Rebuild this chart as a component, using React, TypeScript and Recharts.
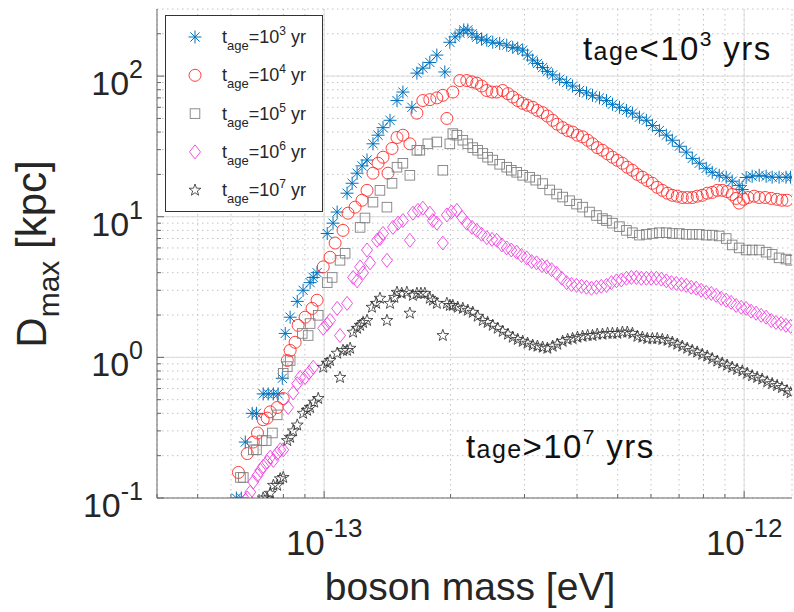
import { CartesianGrid, Legend, ReferenceLine, Scatter, ScatterChart, XAxis, YAxis } from "recharts";

const FONT = '"Liberation Sans", Arial, Helvetica, sans-serif';
const AXIS = "#666666";
const TEXT = "#262626";

// boson mass in units of 1e-13 eV, D_max in kpc
const age1e3: [number, number][] = [
  [0.618, 0.1], [0.635, 0.1], [0.649, 0.25], [0.674, 0.4], [0.69, 0.4], [0.716, 0.55], [0.736, 0.55],
  [0.757, 0.55], [0.777, 0.55], [0.795, 0.71], [0.808, 1.48], [0.83, 1.93], [0.863, 2.5], [0.891, 3.0],
  [0.926, 3.4], [0.942, 3.7], [0.962, 4.0], [1.017, 7.6], [1.05, 9.0], [1.074, 10.8], [1.134, 14.7],
  [1.166, 17.3], [1.198, 20.4], [1.231, 23], [1.265, 25.3], [1.307, 33], [1.344, 38], [1.381, 43],
  [1.435, 48.5], [1.491, 67], [1.54, 77], [1.618, 60], [1.663, 105], [1.718, 114], [1.785, 125],
  [1.855, 141], [1.938, 107], [1.992, 174], [2.05, 190], [2.104, 202], [2.15, 213], [2.198, 213],
  [2.25, 200], [2.309, 189], [2.37, 183], [2.439, 180], [2.52, 174], [2.618, 171], [2.721, 166],
  [2.812, 160], [2.89, 158], [2.97, 153], [3.05, 141], [3.137, 130], [3.22, 123], [3.313, 115],
  [3.4, 108], [3.5, 102], [3.637, 95], [3.779, 90], [3.904, 85], [4.057, 79], [4.214, 76], [4.355, 73],
  [4.525, 70], [4.701, 67], [4.858, 63], [5.048, 60], [5.245, 57], [5.42, 54.5], [5.632, 51],
  [5.851, 48.5], [6.047, 44.5], [6.283, 41], [6.528, 38], [6.745, 35], [7.009, 31.7], [7.282, 28.8],
  [7.525, 26], [7.819, 24], [8.124, 22.1], [8.395, 20.7], [8.723, 19.7], [9.063, 19.1], [9.365, 17.9],
  [9.73, 16.7], [9.9, 15.6], [10.11, 19], [10.45, 19.4], [10.86, 19.7], [11.28, 19.4], [11.66, 19.1],
  [12.11, 19.1], [12.58, 19.1], [12.9, 19.1],
];

const age1e4: [number, number][] = [
  [0.625, 0.152], [0.656, 0.207], [0.678, 0.25], [0.694, 0.29], [0.716, 0.36], [0.732, 0.37],
  [0.744, 0.41], [0.773, 0.44], [0.799, 0.51], [0.817, 0.95], [0.83, 1.12], [0.853, 1.28], [0.867, 1.69],
  [0.901, 1.93], [0.936, 2.23], [0.962, 2.55], [0.995, 4.4], [1.033, 5.15], [1.062, 6.5], [1.109, 8.0],
  [1.14, 10.6], [1.185, 11.7], [1.231, 13.1], [1.265, 15.4], [1.307, 20.4], [1.344, 24], [1.381, 26.5],
  [1.419, 20.4], [1.451, 30.6], [1.491, 36.6], [1.54, 38], [1.6, 33], [1.663, 54.5], [1.718, 67],
  [1.785, 68], [1.855, 70], [1.917, 73], [1.96, 50], [2.025, 77], [2.104, 93], [2.186, 93], [2.25, 91],
  [2.309, 89], [2.37, 85], [2.439, 79], [2.51, 77], [2.576, 77], [2.662, 79], [2.74, 75], [2.812, 71],
  [2.89, 67], [2.97, 64], [3.05, 62], [3.137, 60], [3.22, 57], [3.313, 55], [3.4, 52], [3.5, 48.5],
  [3.59, 45.5], [3.697, 43], [3.8, 41], [3.904, 40], [4.01, 38], [4.124, 37], [4.24, 35], [4.355, 33],
  [4.47, 31], [4.6, 29.7], [4.73, 28], [4.858, 26.5], [4.99, 25.2], [5.131, 24], [5.27, 22.5],
  [5.42, 21.4], [5.57, 20], [5.725, 19.1], [5.88, 18.1], [6.047, 17.3], [6.21, 16.2], [6.386, 15.4],
  [6.57, 14.7], [6.745, 14.2], [6.93, 14.0], [7.124, 13.7], [7.32, 13.7], [7.525, 13.7], [7.73, 14.0],
  [7.948, 14.2], [8.17, 14.7], [8.395, 14.9], [8.63, 15.4], [8.866, 15.4], [9.11, 15.1], [9.365, 14.4],
  [9.572, 13.5], [9.73, 12.5], [9.97, 13.3], [10.22, 13.7], [10.56, 14.0], [10.86, 13.7], [11.22, 13.7],
  [11.6, 13.5], [11.98, 13.3], [12.3, 13.1], [12.65, 13.1],
];

const age1e5: [number, number][] = [
  [0.632, 0.14], [0.642, 0.14], [0.678, 0.22], [0.69, 0.22], [0.712, 0.256], [0.728, 0.256],
  [0.753, 0.29], [0.773, 0.39], [0.799, 0.77], [0.817, 0.86], [0.83, 0.95], [0.887, 1.48], [0.916, 1.43],
  [0.926, 1.74], [0.968, 1.99], [1.017, 3.4], [1.045, 3.7], [1.091, 4.9], [1.122, 5.5], [1.218, 8.4],
  [1.251, 9.8], [1.307, 12.7], [1.358, 15.4], [1.411, 11.7], [1.451, 17.3], [1.491, 22.5], [1.54, 24],
  [1.6, 19.7], [1.663, 29.7], [1.69, 29.7], [1.766, 33], [1.855, 34], [1.917, 21.4], [1.992, 33],
  [2.025, 39], [2.07, 38], [2.139, 35], [2.198, 33], [2.259, 31], [2.32, 29.7], [2.386, 28.2],
  [2.45, 26.5], [2.52, 25.3], [2.618, 23.6], [2.721, 22.5], [2.79, 21.4], [2.874, 20.7], [2.97, 19.7],
  [3.086, 19.1], [3.19, 18.2], [3.313, 17.2], [3.443, 15.5], [3.577, 14.5], [3.697, 13.8], [3.841, 13],
  [3.99, 12.3], [4.124, 11.7], [4.284, 10.8], [4.451, 10.2], [4.6, 9.7], [4.701, 9.4], [4.858, 9.0],
  [5.048, 8.5], [5.245, 8.0], [5.42, 7.7], [5.632, 7.4], [5.851, 7.5], [6.047, 7.6], [6.283, 7.7],
  [6.528, 7.7], [6.745, 7.6], [7.009, 7.6], [7.282, 7.5], [7.525, 7.5], [7.819, 7.5], [8.124, 7.4],
  [8.395, 7.4], [8.723, 7.3], [9.063, 7.0], [9.365, 6.3], [9.73, 6.0], [10.11, 5.8], [10.45, 5.8],
  [10.86, 5.8], [11.28, 5.6], [11.66, 5.4], [12.11, 5.1], [12.58, 5.0], [12.9, 4.9],
];

const age1e6: [number, number][] = [
  [0.656, 0.1], [0.667, 0.11], [0.678, 0.13], [0.694, 0.145], [0.705, 0.157], [0.716, 0.168],
  [0.732, 0.18], [0.744, 0.195], [0.757, 0.185], [0.773, 0.207], [0.786, 0.22], [0.799, 0.22],
  [0.821, 0.44], [0.844, 0.56], [0.863, 0.65], [0.877, 0.72], [0.901, 0.72], [0.921, 0.78], [0.942, 0.85],
  [0.995, 1.61], [1.017, 1.72], [1.033, 1.83], [1.074, 2.23], [1.091, 1.43], [1.134, 2.42], [1.172, 3.7],
  [1.198, 3.5], [1.218, 4.4], [1.238, 4.0], [1.265, 5.8], [1.286, 4.7], [1.336, 6.8], [1.358, 7.0],
  [1.381, 7.6], [1.411, 4.9], [1.458, 8.4], [1.5, 9.0], [1.54, 9.4], [1.6, 6.8], [1.627, 10.6],
  [1.672, 11.1], [1.718, 11.5], [1.785, 10.6], [1.815, 9.4], [1.855, 9.0], [1.917, 6.5], [1.96, 10.3],
  [2.01, 10.8], [2.07, 11.1], [2.13, 9.9], [2.186, 9.0], [2.25, 8.4], [2.309, 8.0], [2.37, 7.5],
  [2.439, 7.1], [2.51, 6.9], [2.576, 6.8], [2.65, 6.3], [2.721, 6.0], [2.79, 5.8], [2.874, 5.6],
  [2.95, 5.3], [3.036, 5.1], [3.12, 4.8], [3.206, 4.7], [3.3, 4.5], [3.387, 4.4], [3.48, 4.2],
  [3.577, 3.96], [3.68, 3.65], [3.779, 3.4], [3.88, 3.3], [3.99, 3.25], [4.1, 3.2], [4.214, 3.15],
  [4.33, 3.1], [4.451, 3.15], [4.57, 3.2], [4.701, 3.25], [4.83, 3.4], [4.966, 3.5], [5.1, 3.55],
  [5.245, 3.65], [5.39, 3.7], [5.54, 3.7], [5.69, 3.65], [5.851, 3.65], [6.01, 3.65], [6.18, 3.65],
  [6.35, 3.6], [6.528, 3.5], [6.71, 3.4], [6.895, 3.36], [7.09, 3.3], [7.282, 3.25], [7.48, 3.15],
  [7.691, 3.1], [7.9, 3.0], [8.124, 2.9], [8.35, 2.85], [8.581, 2.76], [8.82, 2.63], [9.063, 2.55],
  [9.31, 2.46], [9.572, 2.34], [9.84, 2.27], [10.11, 2.23], [10.39, 2.13], [10.68, 2.06], [10.98, 1.99],
  [11.28, 1.93], [11.6, 1.83], [11.91, 1.77], [12.24, 1.74], [12.58, 1.69], [12.9, 1.66],
];

const age1e7: [number, number][] = [
  [0.716, 0.1], [0.732, 0.1], [0.744, 0.108], [0.757, 0.123], [0.773, 0.123], [0.786, 0.137],
  [0.799, 0.14], [0.817, 0.256], [0.83, 0.27], [0.844, 0.3], [0.863, 0.33], [0.891, 0.4], [0.911, 0.42],
  [0.926, 0.44], [0.947, 0.48], [0.968, 0.51], [0.995, 0.85], [1.017, 0.91], [1.033, 0.95], [1.074, 1.07],
  [1.091, 0.72], [1.109, 1.12], [1.134, 1.12], [1.153, 1.16], [1.172, 1.51], [1.198, 1.61], [1.218, 1.69],
  [1.238, 1.77], [1.265, 1.83], [1.3, 2.27], [1.33, 2.42], [1.358, 2.63], [1.411, 1.83], [1.435, 2.42],
  [1.47, 2.67], [1.491, 2.9], [1.53, 2.85], [1.574, 2.9], [1.6, 2.06], [1.627, 2.76], [1.663, 2.85],
  [1.7, 2.85], [1.737, 2.85], [1.785, 2.63], [1.815, 2.55], [1.855, 2.42], [1.917, 1.43], [1.96, 2.42],
  [1.992, 2.34], [2.025, 2.34], [2.08, 2.27], [2.139, 2.23], [2.198, 2.16], [2.259, 2.09], [2.32, 1.96],
  [2.386, 1.83], [2.45, 1.77], [2.52, 1.69], [2.59, 1.61], [2.662, 1.53], [2.74, 1.46], [2.812, 1.39],
  [2.89, 1.34], [2.97, 1.3], [3.05, 1.26], [3.137, 1.22], [3.22, 1.2], [3.313, 1.18], [3.4, 1.16],
  [3.5, 1.2], [3.59, 1.24], [3.697, 1.3], [3.8, 1.34], [3.904, 1.36], [4.01, 1.39], [4.124, 1.41],
  [4.24, 1.43], [4.355, 1.43], [4.47, 1.46], [4.6, 1.46], [4.73, 1.48], [4.858, 1.48], [4.99, 1.48],
  [5.131, 1.51], [5.27, 1.51], [5.42, 1.48], [5.57, 1.41], [5.725, 1.39], [5.88, 1.36], [6.047, 1.36],
  [6.21, 1.36], [6.386, 1.34], [6.57, 1.32], [6.745, 1.28], [6.93, 1.24], [7.124, 1.2], [7.32, 1.16],
  [7.525, 1.12], [7.73, 1.09], [7.948, 1.05], [8.17, 1.02], [8.395, 0.98], [8.63, 0.94], [8.866, 0.91],
  [9.11, 0.88], [9.365, 0.85], [9.62, 0.82], [9.9, 0.8], [10.17, 0.77], [10.45, 0.74], [10.74, 0.72],
  [11.04, 0.7], [11.35, 0.67], [11.66, 0.65], [11.98, 0.63], [12.3, 0.61], [12.65, 0.58], [12.9, 0.56],
];

const massTicks = [0.4, 0.5, 0.6, 0.7, 0.8, 0.9, 1, 2, 3, 4, 5, 6, 7, 8, 9, 10];
const dTicks = [
  0.1, 0.2, 0.3, 0.4, 0.5, 0.6, 0.7, 0.8, 0.9, 1, 2, 3, 4, 5, 6, 7, 8, 9, 10, 20, 30, 40, 50, 60, 70, 80,
  90, 100, 200,
];
const massMajor = [1, 10];
const dMajor = [1, 10, 100];

type Kind = "asterisk" | "circle" | "square" | "diamond" | "pentagram";

const series: { exp: number; data: [number, number][]; color: string; kind: Kind }[] = [
  { exp: 3, data: age1e3, color: "#0072BD", kind: "asterisk" },
  { exp: 4, data: age1e4, color: "#ff2a2a", kind: "circle" },
  { exp: 5, data: age1e5, color: "#808080", kind: "square" },
  { exp: 6, data: age1e6, color: "#f03ce0", kind: "diamond" },
  { exp: 7, data: age1e7, color: "#2b2b2b", kind: "pentagram" },
];

const toPoints = (rows: [number, number][]) => rows.map(([m, d]) => ({ m, d }));

const isDecade = (v: number) => Math.abs(Math.log10(v) - Math.round(Math.log10(v))) < 1e-6;

function Marker({ kind, cx, cy, color }: { kind: Kind; cx: number; cy: number; color: string }) {
  if (cx == null || cy == null) return null;
  if (kind === "asterisk") {
    const r = 6.5;
    const d = 4.6;
    return (
      <g stroke={color} strokeWidth={1}>
        <line x1={cx - r} y1={cy} x2={cx + r} y2={cy} />
        <line x1={cx} y1={cy - r} x2={cx} y2={cy + r} />
        <line x1={cx - d} y1={cy - d} x2={cx + d} y2={cy + d} />
        <line x1={cx - d} y1={cy + d} x2={cx + d} y2={cy - d} />
      </g>
    );
  }
  if (kind === "circle") {
    return <circle cx={cx} cy={cy} r={6} fill="none" stroke={color} strokeWidth={0.9} />;
  }
  if (kind === "square") {
    return <rect x={cx - 4.8} y={cy - 4.8} width={9.6} height={9.6} fill="none" stroke={color} strokeWidth={0.9} />;
  }
  if (kind === "diamond") {
    return (
      <path
        d={`M${cx},${cy - 7}L${cx + 5.5},${cy}L${cx},${cy + 7}L${cx - 5.5},${cy}Z`}
        fill="none"
        stroke={color}
        strokeWidth={0.9}
      />
    );
  }
  const pts: string[] = [];
  for (let i = 0; i < 10; i++) {
    const r = i % 2 === 0 ? 6.2 : 2.5;
    const a = -Math.PI / 2 + (i * Math.PI) / 5;
    pts.push(`${(cx + r * Math.cos(a)).toFixed(2)},${(cy + r * Math.sin(a)).toFixed(2)}`);
  }
  return <polygon points={pts.join(" ")} fill="none" stroke={color} strokeWidth={0.8} />;
}

function BottomTick({ x, y, payload }: any) {
  const v = payload.value;
  const major = isDecade(v);
  return (
    <g>
      <line x1={x} x2={x} y1={y} y2={y - (major ? 7 : 4)} stroke={AXIS} />
      {major && (
        <text x={x} y={y + 57} textAnchor="middle" fontFamily={FONT} fontSize={35} fill={TEXT}>
          10
          <tspan dy={-18} fontSize={26}>
            {Math.round(Math.log10(v)) - 13}
          </tspan>
        </text>
      )}
    </g>
  );
}

function TopTick({ x, y, payload }: any) {
  const major = isDecade(payload.value);
  return <line x1={x} x2={x} y1={y} y2={y + (major ? 7 : 4)} stroke={AXIS} />;
}

function LeftTick({ x, y, payload }: any) {
  const v = payload.value;
  const major = isDecade(v);
  return (
    <g>
      <line x1={x} x2={x + (major ? 7 : 4)} y1={y} y2={y} stroke={AXIS} />
      {major && (
        <text x={x - 14} y={y + 19} textAnchor="end" fontFamily={FONT} fontSize={34} fill={TEXT}>
          10
          <tspan dy={-17} fontSize={25}>
            {Math.round(Math.log10(v))}
          </tspan>
        </text>
      )}
    </g>
  );
}

function RightTick({ x, y, payload }: any) {
  const major = isDecade(payload.value);
  return <line x1={x} x2={x - (major ? 7 : 4)} y1={y} y2={y} stroke={AXIS} />;
}

function LegendBox() {
  return (
    <svg width={158} height={197} style={{ display: "block" }}>
      <rect x={0.5} y={0.5} width={157} height={196} fill="#ffffff" stroke="#333333" />
      {series.map((s, i) => {
        const cy = 22 + i * 38.3;
        return (
          <g key={s.exp}>
            <Marker kind={s.kind} cx={30} cy={cy} color={s.color} />
            <text x={57} y={cy + 6} fontFamily={FONT} fontSize={18} fill={TEXT}>
              t
              <tspan fontSize={13} dy={7}>
                age
              </tspan>
              <tspan fontSize={18} dy={-7}>
                =10
              </tspan>
              <tspan fontSize={12} dy={-8}>
                {s.exp}
              </tspan>
              <tspan fontSize={18} dy={8}>
                {"\u00a0yr"}
              </tspan>
            </text>
          </g>
        );
      })}
    </svg>
  );
}

function AgeNote({ x, y, sign, exp }: { x: number; y: number; sign: string; exp: number }) {
  return (
    <text x={x} y={y} fontFamily={FONT} fontSize={33} fill="#111111" letterSpacing={1.4}>
      t
      <tspan fontSize={25}>age</tspan>
      <tspan fontSize={33}>{sign}10</tspan>
      <tspan fontSize={21} dy={-14}>
        {exp}
      </tspan>
      <tspan fontSize={33} dy={14}>
        {"\u00a0yrs"}
      </tspan>
    </text>
  );
}

export default function App() {
  return (
    <div style={{ position: "fixed", left: 0, top: 0, width: 794, height: 612, background: "#ffffff" }}>
      <ScatterChart width={794} height={612} margin={{ top: 9, right: 2, bottom: 0, left: 0 }}>
        <CartesianGrid stroke="#c2c2c2" strokeDasharray="1.5 3.5" />
        {massMajor.map((v) => (
          <ReferenceLine key={`mx${v}`} x={v} stroke="#dcdcdc" />
        ))}
        {dMajor.map((v) => (
          <ReferenceLine key={`dy${v}`} y={v} stroke="#dcdcdc" />
        ))}
        <XAxis
          dataKey="m"
          type="number"
          scale="log"
          domain={[0.4, 13]}
          allowDataOverflow
          ticks={massTicks}
          interval={0}
          height={114}
          tickSize={0}
          tickMargin={0}
          stroke={AXIS}
          tick={<BottomTick />}
        />
        <XAxis
          xAxisId="top"
          orientation="top"
          dataKey="m"
          type="number"
          scale="log"
          domain={[0.4, 13]}
          allowDataOverflow
          ticks={massTicks}
          interval={0}
          height={0}
          tickSize={0}
          tickMargin={0}
          stroke={AXIS}
          tick={<TopTick />}
        />
        <YAxis
          dataKey="d"
          type="number"
          scale="log"
          domain={[0.1, 300]}
          allowDataOverflow
          ticks={dTicks}
          interval={0}
          width={157}
          tickSize={0}
          tickMargin={0}
          stroke={AXIS}
          tick={<LeftTick />}
        />
        <YAxis
          yAxisId="right"
          orientation="right"
          dataKey="d"
          type="number"
          scale="log"
          domain={[0.1, 300]}
          allowDataOverflow
          ticks={dTicks}
          interval={0}
          width={0}
          tickSize={0}
          tickMargin={0}
          stroke={AXIS}
          tick={<RightTick />}
        />
        {series.map((s) => (
          <Scatter
            key={s.exp}
            name={`t_age=10^${s.exp} yr`}
            data={toPoints(s.data)}
            isAnimationActive={false}
            shape={(p: any) => <Marker kind={s.kind} cx={p.cx} cy={p.cy} color={s.color} />}
          />
        ))}
        <Legend
          layout="vertical"
          align="center"
          verticalAlign="middle"
          wrapperStyle={{ left: 165, top: 15, width: 158, height: 197 }}
          content={() => <LegendBox />}
        />
      </ScatterChart>
      <svg
        width={794}
        height={612}
        style={{ position: "absolute", left: 0, top: 0, pointerEvents: "none" }}
      >
        <AgeNote x={583} y={60} sign="<" exp={3} />
        <AgeNote x={466} y={458} sign=">" exp={7} />
        <text x={470} y={600} textAnchor="middle" fontFamily={FONT} fontSize={39} fill={TEXT}>
          boson mass [eV]
        </text>
        <text transform="translate(46,254) rotate(-90)" textAnchor="middle" fontFamily={FONT} fontSize={42} fill={TEXT}>
          D
          <tspan fontSize={30} dy={13}>
            max
          </tspan>
          <tspan fontSize={42} dy={-13}>
            {"\u00a0[kpc]"}
          </tspan>
        </text>
      </svg>
    </div>
  );
}
